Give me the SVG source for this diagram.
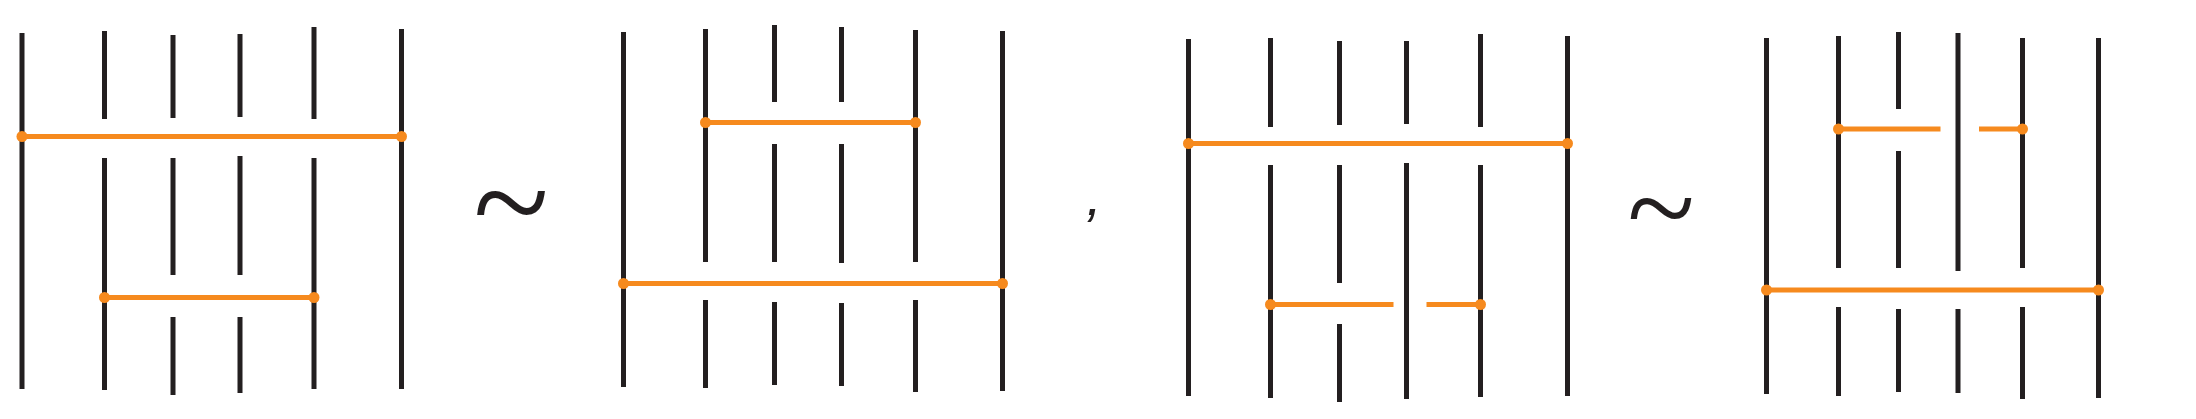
<svg xmlns="http://www.w3.org/2000/svg" width="2196" height="419" viewBox="0 0 2196 419">
<style>
.s{stroke:#231f20;stroke-width:5;fill:none;stroke-linecap:butt}
.r{stroke:#f68a1e;stroke-width:5;fill:none}
.d{fill:#f68a1e}
.t{font-family:"Liberation Serif",serif;fill:#231f20}
</style>
<rect width="2196" height="419" fill="#fff"/>
<g id="panel1">
<path class="s" d="M22 33V389M104.5 31V119M104.5 158V390M173 35V118M173 158V275M173 317V395M240 34V117M240 156V275M240 317V393M314 27V119M314 158V389M401.5 29V389"/>
</g>
<g id="panel1-rungs">
<path class="r" d="M22 136.5H401.5M104.5 297.5H314"/>
<circle class="d" cx="22" cy="136.5" r="5.5"/><circle class="d" cx="401.5" cy="136.5" r="5.5"/>
<circle class="d" cx="104.5" cy="297.5" r="5.5"/><circle class="d" cx="314" cy="297.5" r="5.5"/>
</g>
<text id="tilde1" class="t" x="511" y="249" font-size="140" text-anchor="middle">~</text>
<g id="panel2">
<path class="s" d="M623.5 32V387M705.5 29V262M705.5 300V388M774.5 25V102M774.5 144V262M774.5 302V385M841.5 27V102M841.5 144V263M841.5 303V386M915.5 30V262M915.5 300V392M1002.5 31V391"/>
</g>
<g id="panel2-rungs">
<path class="r" d="M705.5 122.5H915.5M623.5 283.5H1002.5"/>
<circle class="d" cx="705.5" cy="122.5" r="5.5"/><circle class="d" cx="915.5" cy="122.5" r="5.5"/>
<circle class="d" cx="623.5" cy="283.5" r="5.5"/><circle class="d" cx="1002.5" cy="283.5" r="5.5"/>
</g>
<text id="comma" x="1094" y="215" font-family="Liberation Sans,sans-serif" font-style="italic" font-size="56" fill="#231f20" text-anchor="middle">,</text>
<g id="panel3">
<path class="s" d="M1188.5 39V396M1270.5 38V127M1270.5 165V398M1339.5 41V125M1339.5 165V283M1339.5 324V402M1406.5 41V124M1406.5 163V399M1480.5 34V127M1480.5 165V397M1567.5 36V396"/>
</g>
<g id="panel3-rungs">
<path class="r" d="M1188.5 143.5H1567.5M1270.5 304.5H1393.5M1426.5 304.5H1480.5"/>
<circle class="d" cx="1188.5" cy="143.5" r="5.5"/><circle class="d" cx="1567.5" cy="143.5" r="5.5"/>
<circle class="d" cx="1270.5" cy="304.5" r="5.5"/><circle class="d" cx="1480.5" cy="304.5" r="5.5"/>
</g>
<text id="tilde2" class="t" x="1661" y="250" font-size="125" text-anchor="middle">~</text>
<g id="panel4">
<path class="s" d="M1766.5 38V394M1838.5 36V268M1838.5 307V396M1898.5 32V109M1898.5 151V268M1898.5 309V392M1958 33V271M1958 309V393M2022.5 38V268M2022.5 307V399M2098.5 38V398"/>
</g>
<g id="panel4-rungs">
<path class="r" d="M1838.5 129H1940.5M1979 129H2022.5M1766.5 290H2098.5"/>
<circle class="d" cx="1838.5" cy="129" r="5.5"/><circle class="d" cx="2022.5" cy="129" r="5.5"/>
<circle class="d" cx="1766.5" cy="290" r="5.5"/><circle class="d" cx="2098.5" cy="290" r="5.5"/>
</g>
</svg>
